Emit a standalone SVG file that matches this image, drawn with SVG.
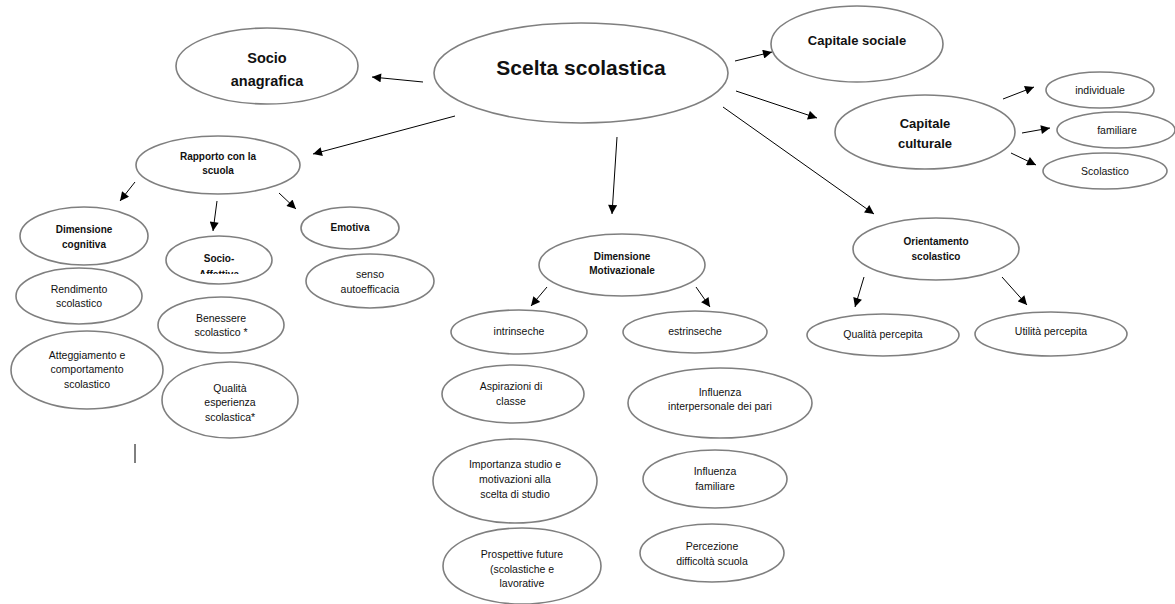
<svg xmlns="http://www.w3.org/2000/svg" width="1175" height="604" viewBox="0 0 1175 604">
<defs>
<style>
.n ellipse{fill:#fff;stroke:#7f7f7f;stroke-width:1.6}
text{font-family:"Liberation Sans",Arial,sans-serif;fill:#111;text-anchor:middle}
.r{font-size:10.5px}
.b{font-size:10px;font-weight:bold}
.b13{font-size:13px;font-weight:bold}
.b15{font-size:14.5px;font-weight:bold}
.b21{font-size:21px;font-weight:bold}
#edges line{stroke:#000;stroke-width:1}
</style>
<marker id="ah" viewBox="0 0 10 10" refX="10" refY="5" markerWidth="10" markerHeight="9" markerUnits="userSpaceOnUse" orient="auto">
<path d="M0,0 L10,5 L0,10 z" fill="#000"/>
</marker>
<clipPath id="clipSA"><rect x="160" y="240" width="120" height="34"/></clipPath>
</defs>
<rect width="1175" height="604" fill="#fff"/>

<g id="edges">
<line x1="423" y1="82" x2="372" y2="77" marker-end="url(#ah)"/>
<line x1="735" y1="61" x2="772" y2="52" marker-end="url(#ah)"/>
<line x1="736" y1="91" x2="817" y2="118" marker-end="url(#ah)"/>
<line x1="1003" y1="99" x2="1034" y2="87" marker-end="url(#ah)"/>
<line x1="1022" y1="133" x2="1050" y2="128" marker-end="url(#ah)"/>
<line x1="1011" y1="153" x2="1036" y2="165" marker-end="url(#ah)"/>
<line x1="723" y1="107" x2="874" y2="214" marker-end="url(#ah)"/>
<line x1="864" y1="277" x2="855" y2="307" marker-end="url(#ah)"/>
<line x1="1002" y1="277" x2="1027" y2="305" marker-end="url(#ah)"/>
<line x1="617" y1="137" x2="612" y2="214" marker-end="url(#ah)"/>
<line x1="547" y1="287" x2="531" y2="306" marker-end="url(#ah)"/>
<line x1="696" y1="287" x2="710" y2="307" marker-end="url(#ah)"/>
<line x1="455" y1="116" x2="313" y2="154" marker-end="url(#ah)"/>
<line x1="135" y1="182" x2="120" y2="201" marker-end="url(#ah)"/>
<line x1="217" y1="201" x2="213" y2="231" marker-end="url(#ah)"/>
<line x1="279" y1="193" x2="296" y2="209" marker-end="url(#ah)"/>
<line x1="135" y1="444" x2="135" y2="463"/>
</g>

<g id="scelta" class="n"><ellipse cx="581" cy="73" rx="147" ry="50"/><text class="b21" x="581" y="75">Scelta scolastica</text></g>
<g id="socio-anagrafica" class="n"><ellipse cx="267" cy="66" rx="91" ry="38"/><text class="b15" x="267" y="63">Socio</text><text class="b15" x="267" y="86">anagrafica</text></g>
<g id="capitale-sociale" class="n"><ellipse cx="857" cy="44" rx="86" ry="38"/><text class="b13" x="857" y="45">Capitale sociale</text></g>
<g id="capitale-culturale" class="n"><ellipse cx="925" cy="132" rx="90" ry="37"/><text class="b13" x="925" y="128">Capitale</text><text class="b13" x="925" y="148">culturale</text></g>
<g id="individuale" class="n"><ellipse cx="1100" cy="90" rx="54" ry="18"/><text class="r" x="1100" y="94">individuale</text></g>
<g id="familiare" class="n"><ellipse cx="1116" cy="130" rx="59" ry="18"/><text class="r" x="1117" y="134">familiare</text></g>
<g id="scolastico" class="n"><ellipse cx="1105" cy="171" rx="62" ry="18"/><text class="r" x="1105" y="175">Scolastico</text></g>

<g id="orientamento" class="n"><ellipse cx="936" cy="249" rx="83" ry="31"/><text class="b" x="936" y="245">Orientamento</text><text class="b" x="936" y="260">scolastico</text></g>
<g id="qualita-percepita" class="n"><ellipse cx="883" cy="335" rx="76" ry="21"/><text class="r" x="883" y="338">Qualità percepita</text></g>
<g id="utilita-percepita" class="n"><ellipse cx="1051" cy="334" rx="76" ry="22"/><text class="r" x="1051" y="335">Utilità percepita</text></g>

<g id="dim-motivazionale" class="n"><ellipse cx="622" cy="265" rx="83" ry="31"/><text class="b" x="622" y="260">Dimensione</text><text class="b" x="622" y="274">Motivazionale</text></g>
<g id="intrinseche" class="n"><ellipse cx="519" cy="332" rx="68" ry="22"/><text class="r" x="519" y="335">intrinseche</text></g>
<g id="estrinseche" class="n"><ellipse cx="695" cy="332" rx="72" ry="21"/><text class="r" x="695" y="335">estrinseche</text></g>
<g id="aspirazioni" class="n"><ellipse cx="513" cy="394" rx="71" ry="29"/><text class="r" x="511" y="390">Aspirazioni di</text><text class="r" x="511" y="405">classe</text></g>
<g id="influenza-pari" class="n"><ellipse cx="720" cy="403" rx="92" ry="35"/><text class="r" x="720" y="396">Influenza</text><text class="r" x="720" y="410">interpersonale dei pari</text></g>
<g id="importanza" class="n"><ellipse cx="515" cy="481" rx="82" ry="42"/><text class="r" x="515" y="468">Importanza studio e</text><text class="r" x="515" y="483">motivazioni alla</text><text class="r" x="515" y="498">scelta di studio</text></g>
<g id="influenza-familiare" class="n"><ellipse cx="715" cy="479" rx="72" ry="29"/><text class="r" x="715" y="475">Influenza</text><text class="r" x="715" y="490">familiare</text></g>
<g id="prospettive" class="n"><ellipse cx="522" cy="566" rx="79" ry="38"/><text class="r" x="522" y="558">Prospettive future</text><text class="r" x="522" y="573">(scolastiche e</text><text class="r" x="522" y="587">lavorative</text></g>
<g id="percezione" class="n"><ellipse cx="712" cy="553" rx="72" ry="29"/><text class="r" x="712" y="550">Percezione</text><text class="r" x="712" y="565">difficoltà scuola</text></g>

<g id="rapporto" class="n"><ellipse cx="218" cy="165" rx="82" ry="29"/><text class="b" x="218" y="160">Rapporto con la</text><text class="b" x="218" y="174">scuola</text></g>
<g id="dim-cognitiva" class="n"><ellipse cx="84" cy="236" rx="64" ry="29"/><text class="b" x="84" y="233">Dimensione</text><text class="b" x="84" y="248">cognitiva</text></g>
<g id="socio-affettiva" class="n"><ellipse cx="219" cy="260" rx="53" ry="24"/><g clip-path="url(#clipSA)"><text class="b" x="219" y="262">Socio-</text><text class="b" x="219" y="278">Affettiva</text></g></g>
<g id="emotiva" class="n"><ellipse cx="350" cy="228" rx="49" ry="21"/><text class="b" x="350" y="231">Emotiva</text></g>
<g id="autoefficacia" class="n"><ellipse cx="370" cy="281" rx="64" ry="27"/><text class="r" x="370" y="278">senso</text><text class="r" x="370" y="293">autoefficacia</text></g>
<g id="rendimento" class="n"><ellipse cx="79" cy="296" rx="63" ry="28"/><text class="r" x="79" y="293">Rendimento</text><text class="r" x="79" y="307">scolastico</text></g>
<g id="benessere" class="n"><ellipse cx="221" cy="325" rx="63" ry="28"/><text class="r" x="221" y="322">Benessere</text><text class="r" x="221" y="336">scolastico *</text></g>
<g id="atteggiamento" class="n"><ellipse cx="87" cy="370" rx="76" ry="39"/><text class="r" x="87" y="359">Atteggiamento e</text><text class="r" x="87" y="373">comportamento</text><text class="r" x="87" y="388">scolastico</text></g>
<g id="qualita-esperienza" class="n"><ellipse cx="230" cy="400" rx="68" ry="38"/><text class="r" x="230" y="392">Qualità</text><text class="r" x="230" y="406">esperienza</text><text class="r" x="230" y="421">scolastica*</text></g>
</svg>
